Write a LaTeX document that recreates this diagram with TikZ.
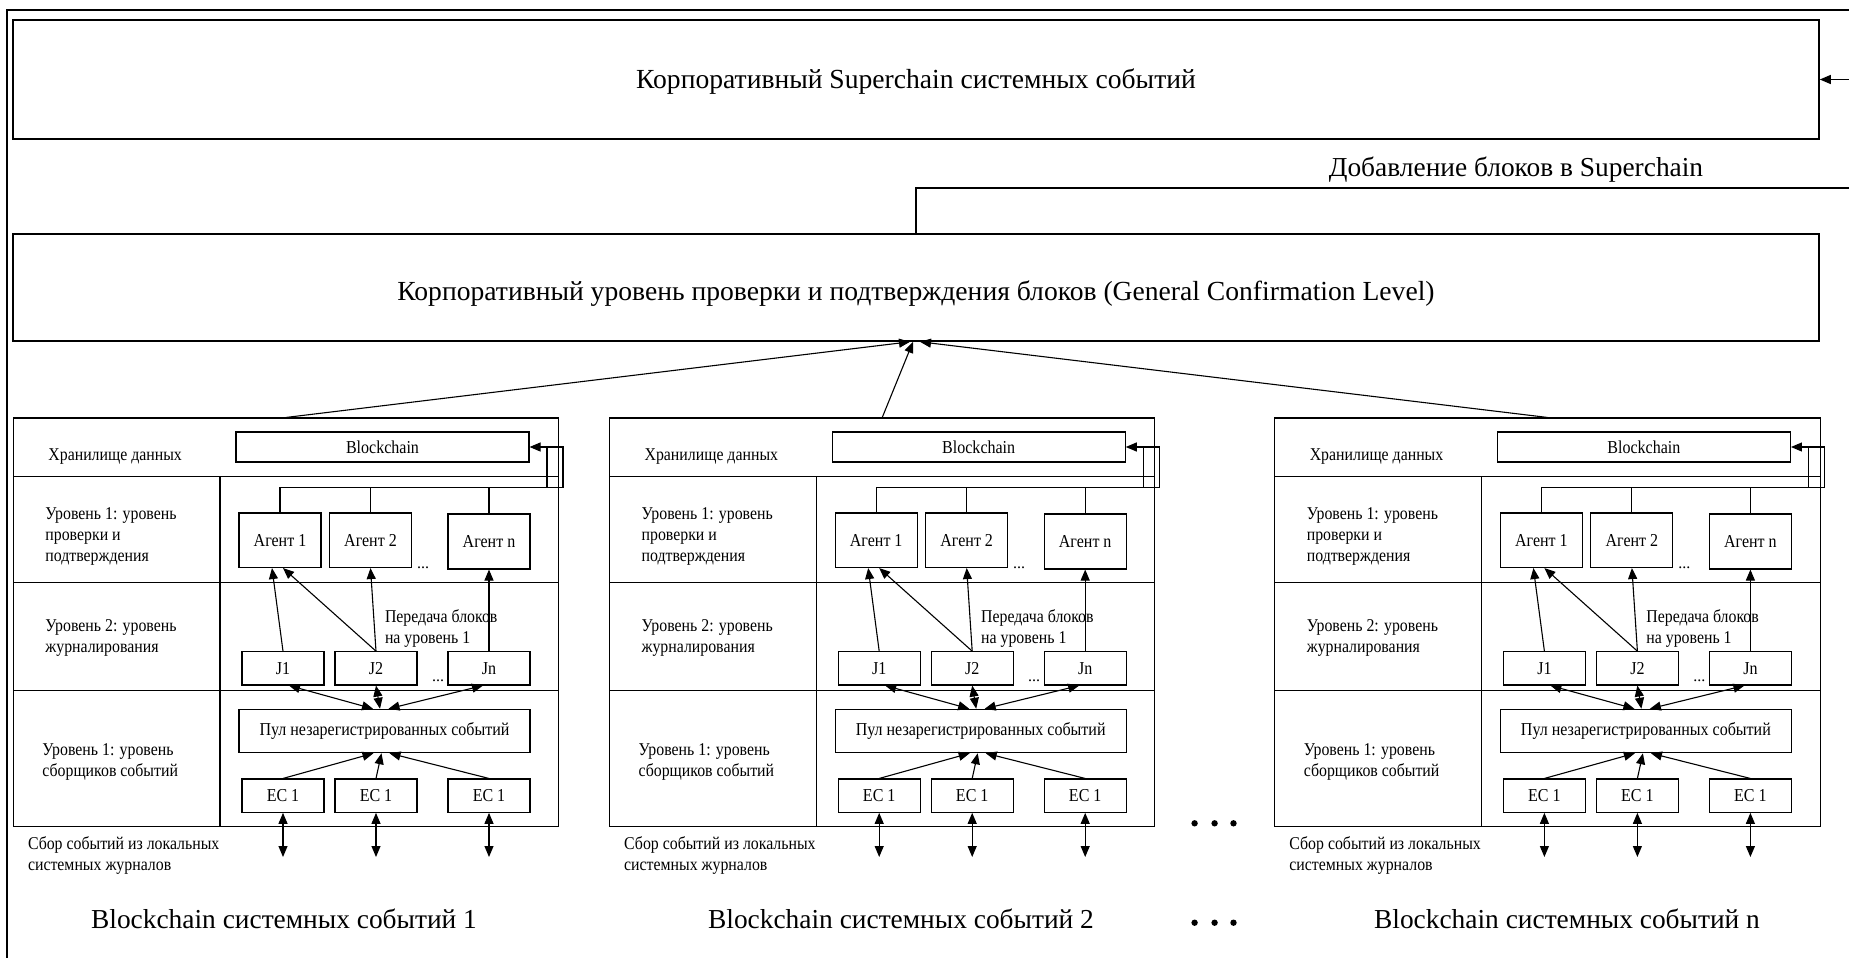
\documentclass[tikz,border=0pt]{standalone}
\usepackage{fontspec}
\setmainfont{Liberation Serif}
\newfontfamily\condfont[FakeStretch=0.88]{Liberation Serif}
\usetikzlibrary{arrows.meta,calc}
\begin{document}
\begin{tikzpicture}[x=0.5pt,y=-0.5pt,
  ln/.style={line width=0.55pt},
  box/.style={draw,line width=0.55pt,inner sep=0pt,font=\condfont\fontsize{9.1}{11}\selectfont},
  bigbox/.style={draw,line width=0.8pt,inner sep=0pt,font=\fontsize{13.8}{16}\selectfont},
  lbl/.style={anchor=west,align=left,inner sep=0pt,font=\condfont\fontsize{9}{10.5}\selectfont},
  tip/.tip={Triangle[length=5.5pt,width=4.5pt]},
  arr/.style={-tip,line width=0.55pt},
  darr/.style={tip-tip,line width=0.55pt},
  ttl/.style={inner sep=0pt,font=\fontsize{13.7}{16}\selectfont},
]
\useasboundingbox (0,0) rectangle (1849,958);
\clip (0,0) rectangle (1849,958);
% outer frame
\draw[line width=1.1pt] (7,990) |- (1890,10);
% top boxes
\node[bigbox,minimum width=903pt,minimum height=59.5pt,text height=8.8pt,text depth=0pt] (sc) at (916,79.5) {Корпоративный Superchain системных событий};
\node[bigbox,minimum width=903pt,minimum height=53.5pt,text height=13.2pt,text depth=0pt] (gcl) at (916,287.5) {Корпоративный уровень проверки и подтверждения блоков (General Confirmation Level)};
\coordinate (sr) at (1890,188);
\draw[arr,line width=0.7pt] (gcl.north) |- (sr) |- (sc.east);
\node[inner sep=0pt,font=\fontsize{13.7}{16}\selectfont] (add) at (1516,169.5) {Добавление блоков в Superchain};
% panels
\foreach \k/\dx in {1/0,2/596.2,3/1261.4}{
\begin{scope}[shift={(\dx,0)}]
  \node[draw,ln,inner sep=0pt,minimum width=272.65pt,minimum height=204.35pt] (pan\k) at (286.05,622.35) {};
  \draw[ln] (13.4,476.5) -- (558.7,476.5);
  \draw[ln] (13.4,582.5) -- (558.7,582.5);
  \draw[ln] (13.4,690.5) -- (558.7,690.5);
  \draw[ln] (220,476.5) -- (220,826.7);
  \node[box,minimum width=146.5pt,minimum height=15pt] (bc\k) at (382.5,447) {Blockchain};
  \node[box,minimum width=41pt,minimum height=27.25pt] (a1\k) at (280,540.25) {Агент 1};
  \node[box,minimum width=41pt,minimum height=27.25pt] (a2\k) at (370.5,540.25) {Агент 2};
  \node[box,minimum width=41pt,minimum height=27.5pt] (an\k) at (489,541.5) {Агент n};
  \node[box,minimum width=41pt,minimum height=16.65pt] (j1\k) at (283,668.35) {J1};
  \node[box,minimum width=41pt,minimum height=16.65pt] (j2\k) at (376,668.35) {J2};
  \node[box,minimum width=41pt,minimum height=16.65pt] (jn\k) at (489,668.35) {Jn};
  \node[box,minimum width=145.5pt,minimum height=21.7pt] (pool\k) at (384.5,731) {Пул незарегистрированных событий};
  \node[box,minimum width=41pt,minimum height=16.65pt] (e1\k) at (283,795.65) {EC 1};
  \node[box,minimum width=41pt,minimum height=16.65pt] (e2\k) at (376,795.65) {EC 1};
  \node[box,minimum width=41pt,minimum height=16.65pt] (e3\k) at (489,795.65) {EC 1};
  % bus to blockchain
  \draw[arr] (a1\k.north) |- (563,487.5) |- (bc\k.east);
  \draw[ln] (a2\k.north) -- (a2\k.north |- 0,487.5);
  \draw[ln] (an\k.north) -- (an\k.north |- 0,487.5);
  \draw[ln] (547,447) -- (547,487.5);
  % J -> agents
  \draw[arr] (j1\k.north) -- ($(a1\k.south)+(-8,0)$);
  \draw[arr] (j2\k.north) -- ($(a1\k.south)+(3,0)$);
  \draw[arr] (j2\k.north) -- (a2\k.south);
  \draw[arr] (jn\k.north) -- (an\k.south);
  % pool <-> J
  \draw[darr] ($(j1\k.south)+(6,0)$) -- ($(pool\k.north)+(-11.5,0)$);
  \draw[darr] (j2\k.south) -- ($(pool\k.north)+(-4.5,0)$);
  \draw[darr] ($(jn\k.south)+(-6,0)$) -- ($(pool\k.north)+(4,0)$);
  % EC -> pool
  \draw[arr] (e1\k.north) -- ($(pool\k.south)+(-11,0)$);
  \draw[arr] (e2\k.north) -- ($(pool\k.south)+(-3,0)$);
  \draw[arr] (e3\k.north) -- ($(pool\k.south)+(5,0)$);
  % external collection
  \coordinate (c1\k) at (283,857);
  \coordinate (c2\k) at (376,857);
  \coordinate (c3\k) at (489,857);
  \draw[darr] (e1\k.south) -- (c1\k);
  \draw[darr] (e2\k.south) -- (c2\k);
  \draw[darr] (e3\k.south) -- (c3\k);
  % labels
  \node[lbl] (lh\k) at (48,457) {Хранилище данных};
  \node[lbl] (lv\k) at (45,536) {Уровень 1: уровень\\проверки и\\подтверждения};
  \node[lbl] (lj\k) at (45,638) {Уровень 2: уровень\\журналирования};
  \node[lbl] (ls\k) at (42,761.7) {Уровень 1: уровень\\сборщиков событий};
  \node[lbl] (lc\k) at (27.6,855) {Сбор событий из локальных\\системных журналов};
  \node[lbl] (lp\k) at (384.6,628) {Передача блоков\\на уровень 1};
  \node[inner sep=0pt,font=\fontsize{8}{10}\selectfont] (d1\k) at (423,568) {...};
  \node[inner sep=0pt,font=\fontsize{8}{10}\selectfont] (d2\k) at (438,681) {...};
\end{scope}
}
% panel -> GCL
\draw[arr] (pan1.north) -- ($(gcl.south)+(-6,0)$);
\draw[arr] (pan2.north) -- ($(gcl.south)+(-3,0)$);
\draw[arr] (pan3.north) -- ($(gcl.south)+(4,0)$);
% dots
\foreach \x in {1194.6,1214.6,1233.5}{
  \fill (\x,823.3) circle (1.6pt);
  \fill (\x,922.7) circle (1.6pt);
}
% titles
\node[ttl] (t1) at (284,919) {Blockchain системных событий 1};
\node[ttl] (t2) at (901,918.5) {Blockchain системных событий 2};
\node[ttl] (t3) at (1567,919) {Blockchain системных событий n};
\end{tikzpicture}
\end{document}
